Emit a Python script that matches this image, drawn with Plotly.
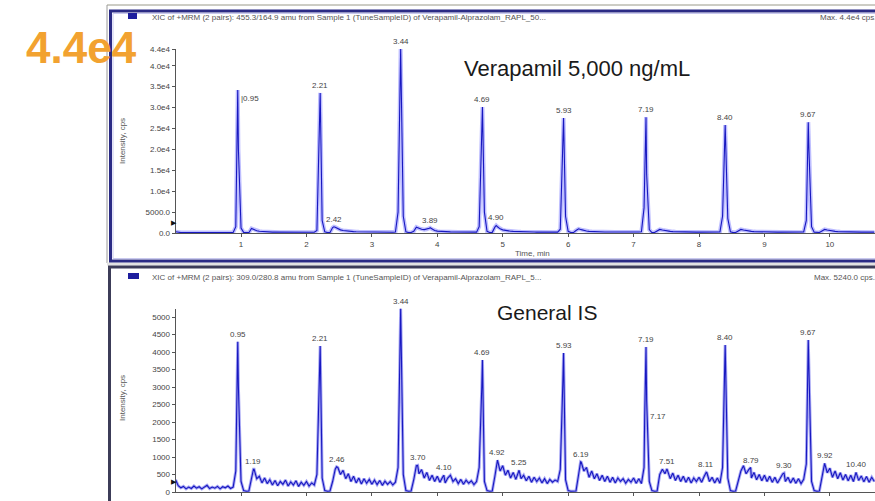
import plotly.graph_objects as go

W, H = 875, 501
STEP_MIN = 0.04  # acquisition grid spacing (min)

# ---------------- data ----------------
# Top chromatogram: Verapamil 5,000 ng/mL, intensity (cps) every 0.04 min from 0.00
top_grid_counts = [
    300, 150, 100, 120, 90, 110, 100, 130, 90, 100, 110, 100, 90, 120, 100, 110, 100, 90, 100, 110, 100, 100, 120, 1500, 20000,
    1200, 150, 60, 80, 1100, 800, 550, 420, 350, 300, 260, 240, 220, 210, 200, 190, 200, 180, 190, 180, 170, 180, 170, 160, 170,
    160, 170, 160, 170, 600, 25000, 3000, 300, 100, 120, 1300, 1400, 1000, 750, 600, 500, 430, 380, 340, 310, 290, 270, 250, 240, 230,
    220, 210, 210, 200, 200, 190, 200, 190, 190, 250, 5000, 44000, 4000, 300, 100, 120, 400, 1400, 1100, 900, 800, 900, 1150, 900, 600,
    450, 380, 330, 300, 280, 260, 250, 240, 230, 220, 220, 210, 210, 200, 200, 210, 1500, 26000, 5000, 400, 120, 150, 1400, 1500, 1000,
    750, 600, 500, 430, 380, 340, 310, 290, 270, 260, 250, 240, 230, 220, 220, 210, 210, 200, 200, 210, 200, 200, 900, 24000, 4000,
    400, 120, 100, 600, 1000, 800, 600, 480, 400, 350, 310, 290, 270, 250, 240, 230, 220, 220, 210, 210, 200, 200, 210, 200, 200,
    200, 200, 250, 300, 6000, 14000, 800, 100, 120, 500, 850, 700, 550, 450, 380, 330, 300, 280, 260, 250, 240, 230, 220, 220, 210,
    210, 200, 200, 210, 200, 200, 190, 200, 250, 4000, 25800, 3500, 300, 100, 120, 500, 850, 700, 550, 450, 380, 330, 300, 280, 260,
    250, 240, 230, 220, 220, 210, 210, 200, 200, 210, 200, 200, 200, 210, 200, 250, 3000, 20000, 1500, 200, 100, 120, 500, 850, 700,
    550, 450, 380, 330, 300, 280, 260, 250, 240, 230, 220, 220, 210, 210, 200, 200, 200, 200,
]
top_peak_rt = [0.95, 2.21, 3.44, 4.69, 5.93, 7.19, 8.40, 9.67]
top_peak_counts = [34200, 33500, 44000, 30100, 27500, 27700, 25800, 26500]
top_minor_rt = [2.42, 3.89, 4.90]
top_minor_counts = [1500, 1250, 1800]

# Bottom chromatogram: General IS, intensity (cps) every 0.04 min from 0.00
bottom_grid_counts = [
    350, 180, 120, 160, 90, 140, 100, 170, 110, 150, 90, 130, 190, 100, 140, 110, 160, 90, 150, 120, 170, 100, 140, 600, 3000,
    300, 40, 20, 30, 450, 650, 380, 450, 260, 400, 240, 350, 200, 330, 180, 300, 220, 340, 170, 290, 200, 320, 160, 280, 190,
    300, 170, 260, 200, 500, 3500, 400, 40, 20, 30, 300, 650, 700, 500, 620, 380, 520, 300, 450, 260, 400, 230, 380, 250, 360,
    220, 340, 210, 330, 190, 310, 220, 300, 200, 280, 700, 5240, 500, 40, 20, 30, 350, 750, 520, 640, 400, 560, 330, 480, 300,
    450, 280, 420, 260, 400, 480, 300, 380, 240, 360, 220, 340, 250, 320, 210, 300, 700, 3000, 300, 40, 20, 30, 450, 900, 600,
    750, 480, 620, 400, 560, 360, 600, 380, 480, 320, 450, 280, 420, 300, 400, 260, 380, 240, 360, 280, 340, 300, 650, 3200, 350,
    40, 20, 30, 30, 500, 850, 600, 700, 420, 600, 380, 520, 330, 480, 300, 450, 280, 420, 260, 400, 300, 380, 250, 360, 280,
    400, 250, 380, 240, 700, 2600, 300, 40, 20, 30, 500, 650, 520, 600, 380, 540, 330, 480, 300, 450, 280, 420, 260, 400, 300,
    420, 280, 450, 550, 300, 420, 260, 400, 250, 700, 4200, 400, 40, 20, 30, 350, 600, 750, 520, 640, 400, 560, 350, 500, 320,
    480, 300, 450, 280, 420, 260, 400, 520, 300, 420, 260, 400, 250, 380, 240, 360, 800, 3300, 300, 40, 20, 30, 400, 800, 550,
    680, 420, 600, 380, 550, 340, 500, 320, 480, 300, 560, 330, 460, 290, 440, 280, 420, 300,
]
bottom_peak_rt = [0.95, 2.21, 3.44, 4.69, 5.93, 7.19, 8.40, 9.67]
bottom_peak_counts = [4290, 4170, 5240, 3770, 3970, 4140, 4200, 4340]
bottom_minor_rt = [1.19, 2.46, 3.70, 4.10, 4.92, 5.25, 6.19, 7.17, 7.51, 8.11, 8.79, 9.30, 9.92, 10.40]
bottom_minor_counts = [650, 720, 760, 480, 910, 620, 860, 2150, 660, 560, 700, 540, 820, 560]

x_tick_vals = [1, 2, 3, 4, 5, 6, 7, 8, 9, 10]
top_y_tick_vals = [0, 5000, 10000, 15000, 20000, 25000, 30000, 35000, 40000, 44000]
top_y_tick_text = ["0.0", "5000.0", "1.0e4", "1.5e4", "2.0e4", "2.5e4", "3.0e4", "3.5e4", "4.0e4", "4.4e4"]
bottom_y_tick_vals = [0, 500, 1000, 1500, 2000, 2500, 3000, 3500, 4000, 4500, 5000]
bottom_y_tick_text = ["0", "500", "1000", "1500", "2000", "2500", "3000", "3500", "4000", "4500", "5000"]

top_header = "XIC of +MRM (2 pairs): 455.3/164.9 amu from Sample 1 (TuneSampleID) of Verapamil-Alprazolam_RAPL_50..."
bottom_header = "XIC of +MRM (2 pairs): 309.0/280.8 amu from Sample 1 (TuneSampleID) of Verapamil-Alprazolam_RAPL_5..."
top_max = "Max. 4.4e4 cps."
bottom_max = "Max. 5240.0 cps."
top_title = "Verapamil 5,000 ng/mL"
bottom_title = "General IS"
big_label = "4.4e4"

# ---------------- helpers ----------------
FONT = "Liberation Sans, Arial, sans-serif"


def px(x):
    return x / W


def py(y):
    return 1 - y / H


def build_trace(grid, peak_rt, peak_c, minor_rt, minor_c):
    t = [round(i * STEP_MIN, 2) for i in range(len(grid))]
    pts = sorted(zip(t + peak_rt + minor_rt, grid + peak_c + minor_c))
    return [p[0] for p in pts], [p[1] for p in pts]


fig = go.Figure()

for (grid, prt, pc, mrt, mc, xa, ya, glow_col, glow_w) in [
    (top_grid_counts, top_peak_rt, top_peak_counts, top_minor_rt, top_minor_counts, "x", "y",
     "rgba(110,110,255,0.45)", 4),
    (bottom_grid_counts, bottom_peak_rt, bottom_peak_counts, bottom_minor_rt, bottom_minor_counts, "x2", "y2",
     "rgba(60,60,230,0.45)", 3),
]:
    tx, ty = build_trace(grid, prt, pc, mrt, mc)
    fig.add_trace(go.Scatter(x=tx, y=ty, mode="lines", xaxis=xa, yaxis=ya,
                             line=dict(color=glow_col, width=glow_w), hoverinfo="skip"))
    fig.add_trace(go.Scatter(x=tx, y=ty, mode="lines", xaxis=xa, yaxis=ya,
                             line=dict(color="#1818C0", width=1.1), hoverinfo="skip"))

annotations = []
label_font = dict(family=FONT, size=8, color="#444")


def peak_label(rt, c, xa, ya, side="top"):
    if side == "top":
        return dict(x=rt, y=c, xref=xa, yref=ya, text=f"{rt:.2f}", showarrow=False,
                    xanchor="center", yanchor="bottom", yshift=1, font=label_font)
    return dict(x=rt, y=c, xref=xa, yref=ya, text="|" + f"{rt:.2f}", showarrow=False,
                xanchor="left", yanchor="middle", xshift=1, yshift=-9, font=label_font)


for rt, c in zip(top_peak_rt, top_peak_counts):
    annotations.append(peak_label(rt, c, "x", "y", "right" if rt == 0.95 else "top"))
for rt, c in zip(top_minor_rt, top_minor_counts):
    annotations.append(peak_label(rt, c, "x", "y"))
for rt, c in zip(bottom_peak_rt, bottom_peak_counts):
    annotations.append(peak_label(rt, c, "x2", "y2"))
for rt, c in zip(bottom_minor_rt, bottom_minor_counts):
    if rt == 7.17:
        annotations.append(dict(x=rt, y=c, xref="x2", yref="y2", text=f"{rt:.2f}", showarrow=False,
                                xanchor="left", yanchor="middle", xshift=3, font=label_font))
    else:
        annotations.append(peak_label(rt, c, "x2", "y2"))

small = dict(family=FONT, size=8, color="#555")
annotations += [
    dict(x=px(150), y=py(17), xref="paper", yref="paper", text=top_header, showarrow=False,
         xanchor="left", yanchor="middle", font=small),
    dict(x=px(818), y=py(17), xref="paper", yref="paper", text=top_max, showarrow=False,
         xanchor="left", yanchor="middle", font=small),
    dict(x=px(150), y=py(277), xref="paper", yref="paper", text=bottom_header, showarrow=False,
         xanchor="left", yanchor="middle", font=small),
    dict(x=px(812), y=py(277), xref="paper", yref="paper", text=bottom_max, showarrow=False,
         xanchor="left", yanchor="middle", font=small),
    dict(x=px(577), y=py(68), xref="paper", yref="paper", text=top_title, showarrow=False,
         xanchor="center", yanchor="middle", font=dict(family=FONT, size=22, color="#1a1a1a")),
    dict(x=px(547), y=py(312), xref="paper", yref="paper", text=bottom_title, showarrow=False,
         xanchor="center", yanchor="middle", font=dict(family=FONT, size=21, color="#1a1a1a")),
    dict(x=px(122), y=py(141), xref="paper", yref="paper", text="Intensity, cps", showarrow=False,
         textangle=-90, xanchor="center", yanchor="middle", font=small),
    dict(x=px(122), y=py(398), xref="paper", yref="paper", text="Intensity, cps", showarrow=False,
         textangle=-90, xanchor="center", yanchor="middle", font=small),
    dict(x=px(532), y=py(254), xref="paper", yref="paper", text="Time, min", showarrow=False,
         xanchor="center", yanchor="middle", font=small),
    dict(x=px(174), y=py(223), xref="paper", yref="paper", text="▶", showarrow=False,
         xanchor="center", yanchor="middle", font=dict(family="DejaVu Sans", size=7, color="#111")),
    dict(x=px(174), y=py(482), xref="paper", yref="paper", text="▶", showarrow=False,
         xanchor="center", yanchor="middle", font=dict(family="DejaVu Sans", size=7, color="#111")),
    dict(x=px(81), y=py(47), xref="paper", yref="paper", text="<b>" + big_label + "</b>", showarrow=False,
         xanchor="center", yanchor="middle", font=dict(family=FONT, size=44, color="#F2A230")),
]

shapes = [
    dict(type="line", xref="paper", yref="paper", x0=px(107), x1=1.05, y0=py(5), y1=py(5),
         line=dict(color="#9a9a8a", width=1)),
    dict(type="line", xref="paper", yref="paper", x0=px(107), x1=px(107), y0=py(5), y1=py(263),
         line=dict(color="#9a9a9a", width=1)),
    dict(type="rect", xref="paper", yref="paper", x0=px(107), x1=1.05, y0=py(262.5), y1=py(265.5),
         fillcolor="#e2e2e2", line=dict(width=0)),
    dict(type="rect", xref="paper", yref="paper", x0=px(110.5), x1=1.05, y0=py(11), y1=py(261),
         line=dict(color="#2B2B85", width=3)),
    dict(type="rect", xref="paper", yref="paper", x0=px(113), x1=1.05, y0=py(13.5), y1=py(258.5),
         line=dict(color="#C8C8EE", width=1)),
    dict(type="rect", xref="paper", yref="paper", x0=px(109.5), x1=1.05, y0=py(267), y1=py(530),
         line=dict(color="#3c3c58", width=3)),
    dict(type="rect", xref="paper", yref="paper", x0=px(128), x1=px(137), y0=py(13), y1=py(19),
         fillcolor="#1E1E9E", line=dict(width=0)),
    dict(type="rect", xref="paper", yref="paper", x0=px(128), x1=px(139), y0=py(273), y1=py(279),
         fillcolor="#1E1E9E", line=dict(width=0)),
]

tickfont = dict(family=FONT, size=8, color="#444")
xdom = [px(175.6), 1.0]
common_x = dict(range=[0, 10.69], domain=xdom, tickvals=x_tick_vals, ticktext=[str(v) for v in x_tick_vals],
                showline=True, linecolor="#555", linewidth=1, ticks="outside", ticklen=3, tickcolor="#555",
                showgrid=False, zeroline=False, tickfont=tickfont, automargin=False, fixedrange=True)
common_y = dict(showline=True, linecolor="#555", linewidth=1, ticks="outside", ticklen=3, tickcolor="#555",
                showgrid=False, zeroline=False, tickfont=tickfont, automargin=False, fixedrange=True)

fig.update_layout(
    width=W, height=H, autosize=False,
    margin=dict(l=0, r=0, t=0, b=0, pad=0),
    paper_bgcolor="white", plot_bgcolor="white",
    showlegend=False, hovermode=False,
    xaxis=dict(anchor="y", **common_x),
    yaxis=dict(anchor="x", domain=[py(233), py(49)], range=[0, 44000],
               tickvals=top_y_tick_vals, ticktext=top_y_tick_text, **common_y),
    xaxis2=dict(anchor="y2", **common_x),
    yaxis2=dict(anchor="x2", domain=[py(492), py(308.6)], range=[0, 5240],
                tickvals=bottom_y_tick_vals, ticktext=bottom_y_tick_text, **common_y),
    annotations=annotations,
    shapes=shapes,
)

fig.write_html(
    "out.html",
    config={"displayModeBar": False, "staticPlot": True},
    post_script="document.body.style.margin='0px';document.body.style.padding='0px';"
                "document.documentElement.style.overflow='hidden';document.body.style.overflow='hidden';",
)
